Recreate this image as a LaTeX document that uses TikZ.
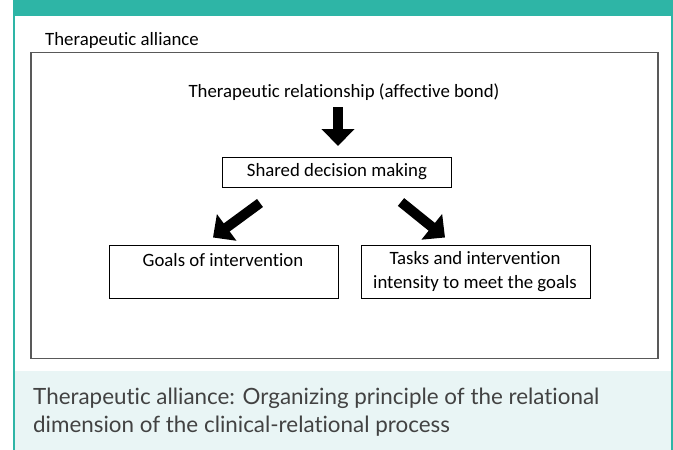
\documentclass[tikz,border=0pt]{standalone}
\usepackage{fontspec}
\setmainfont[Ligatures=NoCommon]{Carlito}
\newfontfamily\capfont[Ligatures=NoCommon]{Lato}
\usetikzlibrary{arrows.meta}
\definecolor{teal1}{HTML}{2EB5A6}
\definecolor{capbg}{HTML}{E9F5F5}
\definecolor{captxt}{HTML}{424242}
\definecolor{frame}{HTML}{595959}
\tikzset{
  lbl/.style={inner sep=0pt, font=\fontsize{18.8}{22}\selectfont, text=black},
  boxnode/.style={draw=black, line width=0.9pt, inner sep=0pt},
  blockarrow/.style={line width=10pt, -{Triangle[width=32pt 0, length=17pt 0]}, black},
  captext/.style={inner sep=0pt, anchor=base west, align=left, font=\capfont\fontsize{22.4}{28}\selectfont, text=captxt}
}
\begin{document}
\begin{tikzpicture}[x=1pt,y=-1pt]
\useasboundingbox (0,0) rectangle (673,450);
\fill[white] (0,0) rectangle (673,450);
% top band and side borders
\fill[teal1] (13,0) rectangle (673,15.5);
\fill[capbg] (15,371) rectangle (671,450);
\draw[teal1, line width=2.5pt] (14,0) -- (14,450);
\draw[teal1, line width=1.6pt] (671.8,0) -- (671.8,450);
% outer frame
\node[lbl, anchor=west] (title) at (45,40) {Therapeutic alliance};
\draw[frame, line width=1.5pt] (31,52.5) rectangle (658,358.5);
% nodes
\node[lbl] (rel) at (344,92) {Therapeutic relationship (affective bond)};
\node[boxnode, minimum width=229pt, minimum height=30pt, anchor=north west] (sdm) at (222,156.5) {};
\node[lbl] (sdmt) at (sdm.center) {Shared decision making};
\node[boxnode, minimum width=229pt, minimum height=53.5pt, anchor=north west] (goals) at (108.5,244.5) {};
\node[lbl] (goalst) at (223,260) {Goals of intervention};
\node[boxnode, minimum width=229.5pt, minimum height=53.5pt, anchor=north west] (tasks) at (360.5,244.5) {};
\node[lbl, align=center, font=\fontsize{18.8}{23.5}\selectfont] (taskst) at (475,271.5) {Tasks and intervention\\intensity to meet the goals};
% block arrows
\coordinate (d1) at (338,107);
\coordinate (d2) at (338,146);
\coordinate (l1) at (260,203);
\coordinate (l2) at (213,237.5);
\coordinate (r1) at (401,202);
\coordinate (r2) at (445,237.5);
\draw[blockarrow] (d1) -- (d2);
\draw[blockarrow] (l1) -- (l2);
\draw[blockarrow] (r1) -- (r2);
% caption
\node[captext] (cap) at (33,432) {Therapeutic alliance: Organizing principle of the relational\\dimension of the clinical-relational process};
\end{tikzpicture}
\end{document}
